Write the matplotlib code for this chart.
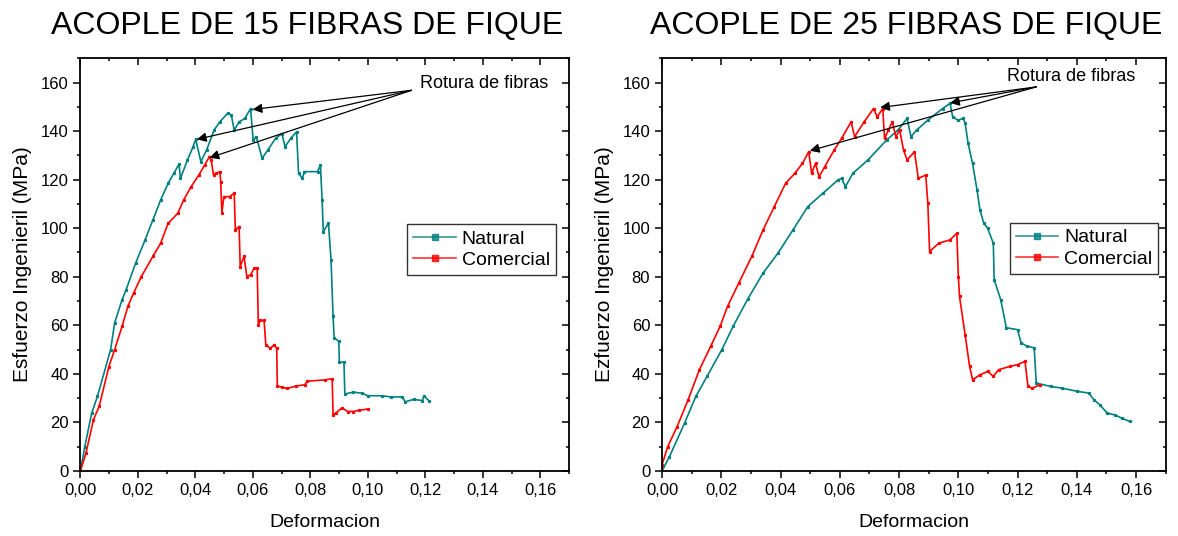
import numpy as np
import matplotlib
matplotlib.use('Agg')
import matplotlib.pyplot as plt
from matplotlib.ticker import MultipleLocator, FuncFormatter
from matplotlib.lines import Line2D

plt.rcParams['font.family'] = ['Liberation Sans', 'DejaVu Sans']

# --- 15 fibras ---
nat15_x = [0.0, 0.0015, 0.0039, 0.0059, 0.0105, 0.0119, 0.0145, 0.0159, 0.0192, 0.0225, 0.0252,
           0.0279, 0.0305, 0.0325, 0.0343, 0.0348, 0.0372, 0.0392, 0.0401, 0.0419, 0.0439, 0.0465,
           0.0485, 0.0512, 0.0525, 0.0535, 0.0552, 0.0572, 0.0592, 0.0601, 0.0612, 0.0632, 0.0652,
           0.0679, 0.0701, 0.0712, 0.0732, 0.0752, 0.0759, 0.0772, 0.0779, 0.0825, 0.0835, 0.0841,
           0.0845, 0.0863, 0.0872, 0.0879, 0.0883, 0.0899, 0.0901, 0.0917, 0.0920, 0.095, 0.098,
           0.100, 0.105, 0.108, 0.112, 0.113, 0.116, 0.119, 0.1195, 0.1212]
nat15_y = [0, 10, 23.8, 30.7, 50, 61, 70.6, 74.7, 85.6, 95.2, 103.4,
           111.6, 118.5, 122.6, 126.4, 120.5, 128, 133.6, 136.6, 127.4, 132.2, 140.4,
           143.8, 147.3, 146.6, 140.4, 143.8, 145.2, 149.3, 136.3, 137.7, 128.8, 132.2,
           137, 139, 133.6, 137, 139.7, 122.6, 120.5, 123.3, 123.3, 126, 111.6,
           98.6, 102, 87, 63.7, 54.8, 53.4, 45, 44.7, 31.7, 32.5, 32,
           31, 31, 30.5, 30.5, 28.5, 29.5, 29, 31, 29]

com15_x = [0.0, 0.0019, 0.0045, 0.0065, 0.0099, 0.0119, 0.0145, 0.0165, 0.0185, 0.0212, 0.0252,
           0.0279, 0.0305, 0.0339, 0.0359, 0.0385, 0.0412, 0.0432, 0.0449, 0.0455, 0.0463, 0.0472,
           0.0485, 0.0488, 0.0492, 0.0499, 0.0519, 0.0535, 0.0539, 0.0552, 0.0556, 0.0569, 0.0579,
           0.0592, 0.0605, 0.0615, 0.0619, 0.0625, 0.0639, 0.0645, 0.066, 0.0675, 0.0683, 0.0685,
           0.070, 0.072, 0.075, 0.078, 0.079, 0.085, 0.0876, 0.0879, 0.089, 0.091, 0.093, 0.095,
           0.097, 0.0999]
com15_y = [0, 7.3, 21, 26.6, 43, 50, 59.6, 67.8, 73.3, 80.1, 88.4,
           93.8, 102, 106.2, 111.6, 117.1, 121.9, 126, 129.5, 128.1, 121.9, 122.6,
           123.3, 119.2, 106.2, 113, 113, 114.4, 99.3, 100.7, 84.2, 88.4, 80.1,
           80.8, 83.6, 83.6, 60, 62, 62, 52, 50.5, 52, 50.5, 35,
           34.5, 34, 35, 35.5, 37, 37.5, 38, 23, 24, 26, 24.5, 24.5,
           25, 25.5]

# --- 25 fibras ---
nat25_x = [0.0, 0.0025, 0.0076, 0.0114, 0.0152, 0.0202, 0.024, 0.029, 0.0341, 0.0391, 0.0442,
           0.0492, 0.0543, 0.0594, 0.0606, 0.0619, 0.0644, 0.0695, 0.0758, 0.0796, 0.0827, 0.084,
           0.0859, 0.0897, 0.0947, 0.0972, 0.0981, 0.0998, 0.1017, 0.1023, 0.1033, 0.1048, 0.1063,
           0.1073, 0.1086, 0.1099, 0.1118, 0.1121, 0.1143, 0.1162, 0.12, 0.1212, 0.1231, 0.1256,
           0.1263, 0.1313, 0.1351, 0.1402, 0.144, 0.1458, 0.1477, 0.1503, 0.1528, 0.1553, 0.1578]
nat25_y = [0, 5.9, 19.7, 30.7, 39, 50, 59.6, 71, 81.5, 89.7, 99.3,
           108.9, 114.4, 119.9, 120.5, 117.1, 122.6, 128.1, 136.3, 140.4, 145.2, 137.7,
           140.4, 144.5, 149.3, 151.4, 145.9, 144.5, 145.2, 143.2, 134.9, 126.7, 115.8,
           107.5, 102, 100, 93.8, 78.8, 70.6, 59, 58.2, 52.7, 51.5, 50.7,
           36.2, 34.8, 34.1, 32.8, 32.1, 29.3, 27.3, 23.8, 23.1, 21.7, 20.4]

com25_x = [0.0, 0.0019, 0.0051, 0.0088, 0.0126, 0.0164, 0.0196, 0.0221, 0.0259, 0.0303, 0.0341,
           0.0379, 0.0417, 0.0448, 0.0474, 0.0495, 0.0505, 0.0518, 0.053, 0.0549, 0.0581, 0.0606,
           0.0638, 0.065, 0.0682, 0.0714, 0.0726, 0.0745, 0.0751, 0.0764, 0.0777, 0.0789, 0.0802,
           0.0815, 0.0827, 0.0852, 0.0865, 0.089, 0.0897, 0.0903, 0.0934, 0.0972, 0.0995, 0.1,
           0.1004, 0.1023, 0.1038, 0.1048, 0.1073, 0.1099, 0.1118, 0.1136, 0.1174, 0.12, 0.1225,
           0.1235, 0.125, 0.1275]
com25_y = [2.5, 10, 18.3, 29.3, 41.7, 51.3, 59.6, 67.8, 77.4, 88.4, 99.3,
           108.9, 118.5, 122.6, 126.7, 131.5, 122.6, 126.7, 121.2, 125.3, 132.2, 137,
           143.8, 137.7, 143.8, 149.3, 145.9, 149.3, 137, 140.4, 143.8, 137.7, 140.4,
           132.2, 128.1, 131.5, 120.5, 121.9, 110.3, 90.4, 93.8, 95.2, 97.9, 80.1,
           71.9, 56, 43.1, 37.6, 39.6, 41, 39, 41.7, 43.1, 43.8, 45.2,
           34.8, 34.1, 35.5]

titles = ['ACOPLE DE 15 FIBRAS DE FIQUE', 'ACOPLE DE 25 FIBRAS DE FIQUE']
ylabels = ['Esfuerzo Ingenieril (MPa)', 'Ezfuerzo Ingenieril (MPa)']
labels = ['Natural', 'Comercial']
colors = ['#008080', '#ff0000']

teal = colors[0]
red = colors[1]

fig = plt.figure(figsize=(11.78, 5.36), dpi=100)
ax1 = fig.add_axes([0.0683, 0.1213, 0.4147, 0.770])
ax2 = fig.add_axes([0.5620, 0.1213, 0.4276, 0.770])

data = [((nat15_x, nat15_y), (com15_x, com15_y)),
        ((nat25_x, nat25_y), (com25_x, com25_y))]

fmt = FuncFormatter(lambda v, p: f'{v:.2f}'.replace('.', ','))

for ax, (nat, com), yl in zip([ax1, ax2], data, ylabels):
    ax.plot(nat[0], nat[1], color=teal, lw=1.2, marker='s', ms=1.3)
    ax.plot(com[0], com[1], color=red, lw=1.2, marker='s', ms=1.3)
    ax.set_xlim(0, 0.17)
    ax.set_ylim(0, 170)
    ax.xaxis.set_major_locator(MultipleLocator(0.02))
    ax.xaxis.set_minor_locator(MultipleLocator(0.01))
    ax.yaxis.set_major_locator(MultipleLocator(20))
    ax.yaxis.set_minor_locator(MultipleLocator(10))
    ax.xaxis.set_major_formatter(fmt)
    ax.tick_params(which='major', direction='out', length=5, width=1.1, labelsize=12)
    ax.tick_params(which='minor', direction='out', length=2.5, width=1.1)
    for s in ax.spines.values():
        s.set_linewidth(1.3)
    ax.set_xlabel('Deformacion', fontsize=14, labelpad=12)
    ax.set_ylabel(yl, fontsize=15, labelpad=6)
    handles = [Line2D([], [], color=c, lw=1.2, marker='s', ms=4, alpha=0.8) for c in colors]
    leg = ax.legend(handles, labels, fontsize=14, frameon=True, fancybox=False,
                    edgecolor='black', loc='upper right', numpoints=1, handlelength=2.2,
                    borderpad=0.3, labelspacing=0.2, handletextpad=0.3, borderaxespad=0,
                    bbox_to_anchor=(0.973, 0.598) if ax is ax1 else (0.985, 0.601))
    leg.get_frame().set_linewidth(1.0)

# ticks on top/right, pointing inward, without labels
for ax in (ax1, ax2):
    ax.tick_params(which='both', axis='x', top=True, labeltop=False)
    ax.tick_params(which='both', axis='y', right=True, labelright=False)
    ax.xaxis.set_tick_params(which='both')
    for t in ax.xaxis.get_major_ticks() + ax.xaxis.get_minor_ticks():
        t.tick2line.set_marker(3)
    for t in ax.yaxis.get_major_ticks() + ax.yaxis.get_minor_ticks():
        t.tick2line.set_marker(0)

arrow = dict(arrowstyle='-|>', color='black', lw=0.9, mutation_scale=14, shrinkA=0, shrinkB=0)

# left annotations
ax1.text(0.1183, 159.6, 'Rotura de fibras', fontsize=13, ha='left', va='center')
for tx, ty in [(0.0599, 148.9), (0.0405, 136.6), (0.0449, 129.0)]:
    ax1.annotate('', xy=(tx, ty), xytext=(0.1152, 156.8), arrowprops=arrow)

# right annotations
ax2.text(0.1164, 162.6, 'Rotura de fibras', fontsize=13, ha='left', va='center')
for tx, ty in [(0.0972, 151.6), (0.0736, 149.7), (0.0499, 131.9)]:
    ax2.annotate('', xy=(tx, ty), xytext=(0.1263, 158.2), arrowprops=arrow)

fig.text(0.261, 0.951, titles[0], fontsize=23, ha='center', va='center')
fig.text(0.769, 0.951, titles[1], fontsize=23, ha='center', va='center')

fig.savefig('out.png', dpi=100)
